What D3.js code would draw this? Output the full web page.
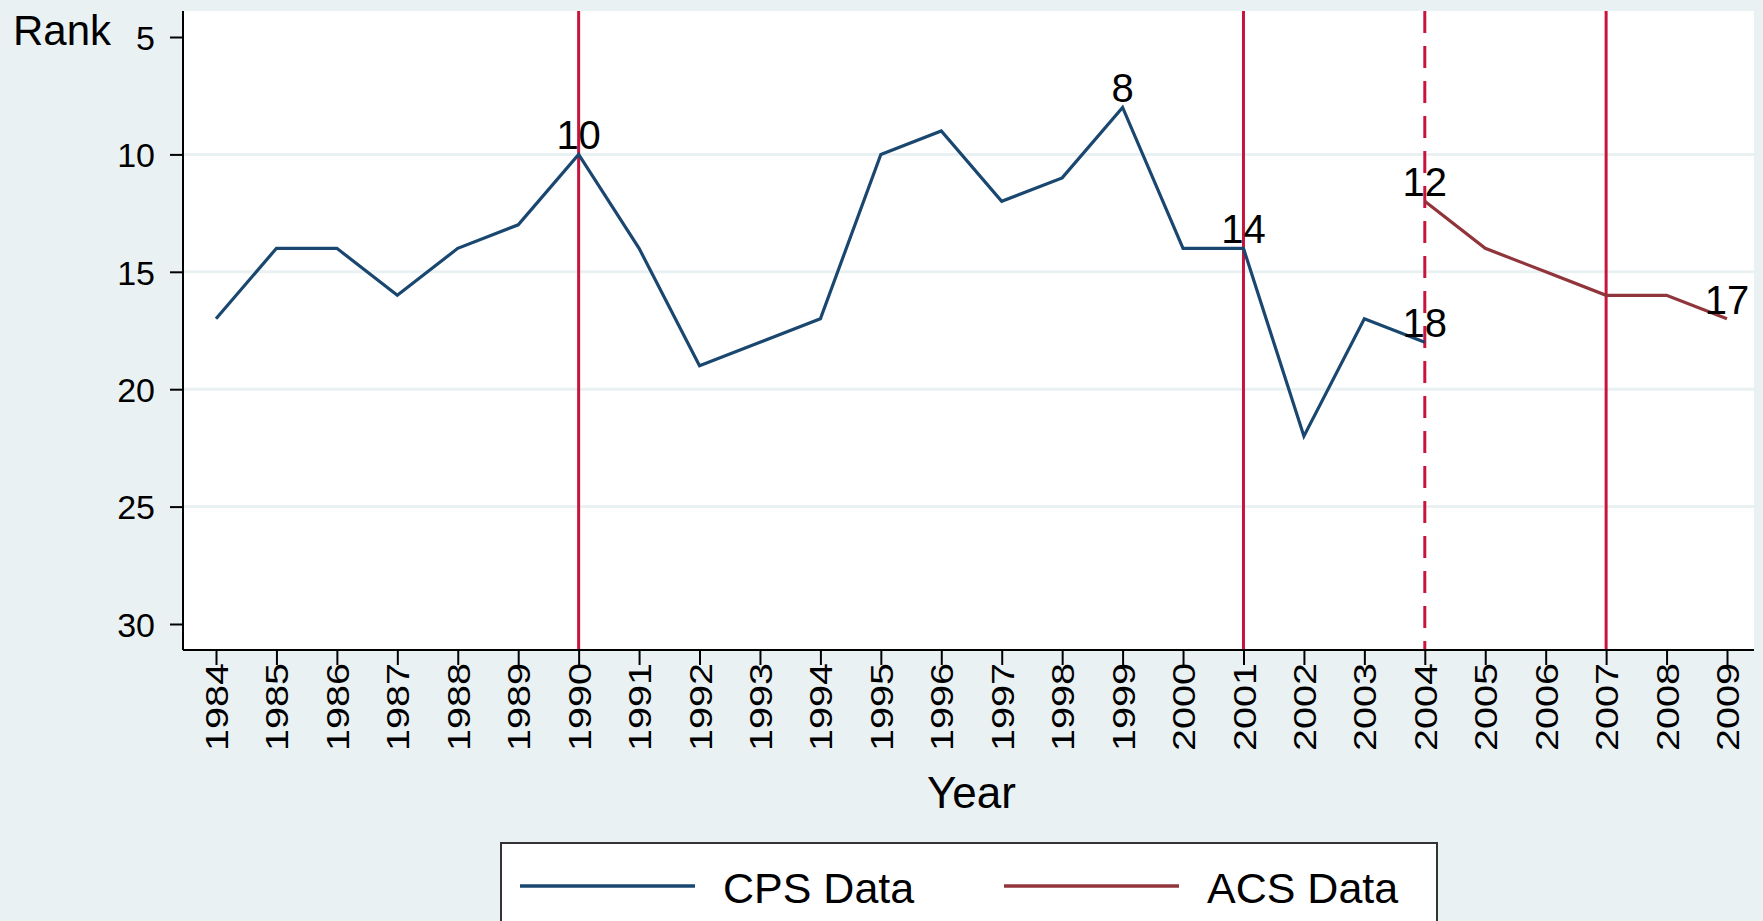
<!DOCTYPE html>
<html>
<head>
<meta charset="utf-8">
<script src="https://cdn.jsdelivr.net/npm/d3@7"></script>
<style>
  body { margin: 0; background: #eaf1f3; }
  svg { display: block; font-family: "Liberation Sans", Arial, sans-serif; }
</style>
</head>
<body>
<svg id="chart" width="1763" height="921"></svg>
<script>
// years and ranks
const cpsYears = [1984, 1985, 1986, 1987, 1988, 1989, 1990, 1991, 1992, 1993, 1994,
                  1995, 1996, 1997, 1998, 1999, 2000, 2001, 2002, 2003, 2004];
const cpsRanks = [17, 14, 14, 16, 14, 13, 10, 14, 19, 18, 17,
                  10, 9, 12, 11, 8, 14, 14, 22, 17, 18];
const acsYears = [2004, 2005, 2006, 2007, 2008, 2009];
const acsRanks = [12, 14, 15, 16, 16, 17];

const yearTicks = d3.range(1984, 2010);
const rankTicks = [5, 10, 15, 20, 25, 30];
const gridTicks = [10, 15, 20, 25];
const solidMarkers = [1990, 2001, 2007];
const dashedMarkers = [2004];

// which points get a value label
const cpsLabelYears = [1990, 1999, 2001, 2004];
const acsLabelYears = [2004, 2009];

const svg = d3.select("#chart");
const plot = { left: 183, right: 1754, top: 11, bottom: 650 };

const x = d3.scaleLinear().domain([1984, 2009]).range([216, 1727]);
const y = d3.scaleLinear().domain([5, 30]).range([37, 624]);

const cpsColor = "#1a476f";
const acsColor = "#90353b";
const markColor = "#c8143c";

svg.append("rect")
    .attr("width", 1763).attr("height", 921)
    .attr("fill", "#eaf1f3");

svg.append("rect")
    .attr("x", plot.left).attr("y", plot.top)
    .attr("width", plot.right - plot.left)
    .attr("height", plot.bottom - plot.top)
    .attr("fill", "#ffffff");

// grid
svg.append("g").selectAll("line")
    .data(gridTicks)
    .enter().append("line")
    .attr("x1", plot.left).attr("x2", plot.right)
    .attr("y1", d => y(d)).attr("y2", d => y(d))
    .attr("stroke", "#eaf1f3")
    .attr("stroke-width", 3);

// vertical reference lines
svg.append("g").selectAll("line")
    .data(solidMarkers)
    .enter().append("line")
    .attr("x1", d => x(d)).attr("x2", d => x(d))
    .attr("y1", plot.top).attr("y2", plot.bottom)
    .attr("stroke", markColor)
    .attr("stroke-width", 3);

svg.append("g").selectAll("line")
    .data(dashedMarkers)
    .enter().append("line")
    .attr("x1", d => x(d)).attr("x2", d => x(d))
    .attr("y1", plot.top).attr("y2", plot.bottom)
    .attr("stroke", markColor)
    .attr("stroke-width", 3)
    .attr("stroke-dasharray", "22,13");

// series lines
const line = d3.line()
    .x(d => x(d[0]))
    .y(d => y(d[1]));

const cpsData = cpsYears.map((yr, i) => [yr, cpsRanks[i]]);
const acsData = acsYears.map((yr, i) => [yr, acsRanks[i]]);

svg.append("path")
    .datum(cpsData)
    .attr("d", line)
    .attr("fill", "none")
    .attr("stroke", cpsColor)
    .attr("stroke-width", 3.2);

svg.append("path")
    .datum(acsData)
    .attr("d", line)
    .attr("fill", "none")
    .attr("stroke", acsColor)
    .attr("stroke-width", 3.2);

// value labels
const labels = cpsData.filter(d => cpsLabelYears.includes(d[0]))
    .concat(acsData.filter(d => acsLabelYears.includes(d[0])));

svg.append("g").selectAll("text")
    .data(labels)
    .enter().append("text")
    .attr("x", d => x(d[0]))
    .attr("y", d => y(d[1]) - 5)
    .attr("text-anchor", "middle")
    .attr("font-size", 40)
    .attr("fill", "#000")
    .text(d => d[1]);

// y axis
const yAxis = svg.append("g")
    .attr("transform", `translate(${plot.left},0)`)
    .call(d3.axisLeft(y).tickValues(rankTicks).tickSize(13).tickPadding(15));
yAxis.select(".domain").remove();
yAxis.append("line")
    .attr("x1", 0).attr("x2", 0)
    .attr("y1", plot.top).attr("y2", plot.bottom)
    .attr("stroke", "#000").attr("stroke-width", 2);
yAxis.selectAll(".tick line").attr("stroke-width", 2);
yAxis.selectAll(".tick text")
    .attr("font-size", 34)
    .attr("font-family", "'Liberation Sans', Arial, sans-serif")
    .attr("dy", "0.36em")
    .attr("fill", "#000");

// x axis
const xAxis = svg.append("g")
    .attr("transform", `translate(0,${plot.bottom})`)
    .call(d3.axisBottom(x).tickValues(yearTicks).tickFormat(d3.format("d")).tickSize(15));
xAxis.select(".domain").remove();
xAxis.append("line")
    .attr("x1", plot.left).attr("x2", plot.right)
    .attr("y1", 0).attr("y2", 0)
    .attr("stroke", "#000").attr("stroke-width", 2);
xAxis.selectAll(".tick line").attr("stroke-width", 2);
xAxis.selectAll(".tick text")
    .attr("font-size", 32)
    .attr("font-family", "'Liberation Sans', Arial, sans-serif")
    .attr("fill", "#000")
    .attr("text-anchor", "end")
    .attr("transform", "rotate(-90)")
    .attr("x", -13)
    .attr("y", 0)
    .attr("dy", "0.36em")
    .attr("textLength", 88)
    .attr("lengthAdjust", "spacingAndGlyphs");

// axis titles
svg.append("text")
    .attr("x", 13).attr("y", 45)
    .attr("font-size", 42)
    .attr("fill", "#000")
    .text("Rank");

svg.append("text")
    .attr("x", x(1996.5)).attr("y", 808)
    .attr("text-anchor", "middle")
    .attr("font-size", 44)
    .attr("fill", "#000")
    .text("Year");

// legend
const legend = svg.append("g");
legend.append("rect")
    .attr("x", 501).attr("y", 843)
    .attr("width", 936).attr("height", 110)
    .attr("fill", "#ffffff")
    .attr("stroke", "#333")
    .attr("stroke-width", 2);

const legendItems = [
    { name: "CPS Data", color: cpsColor, x0: 520 },
    { name: "ACS Data", color: acsColor, x0: 1004 }
];
const item = legend.selectAll("g.item")
    .data(legendItems)
    .enter().append("g")
    .attr("class", "item");
item.append("line")
    .attr("x1", d => d.x0).attr("x2", d => d.x0 + 175)
    .attr("y1", 886).attr("y2", 886)
    .attr("stroke", d => d.color)
    .attr("stroke-width", 3.5);
item.append("text")
    .attr("x", d => d.x0 + 203)
    .attr("y", 903)
    .attr("font-size", 43)
    .attr("fill", "#000")
    .text(d => d.name);
</script>
</body>
</html>
